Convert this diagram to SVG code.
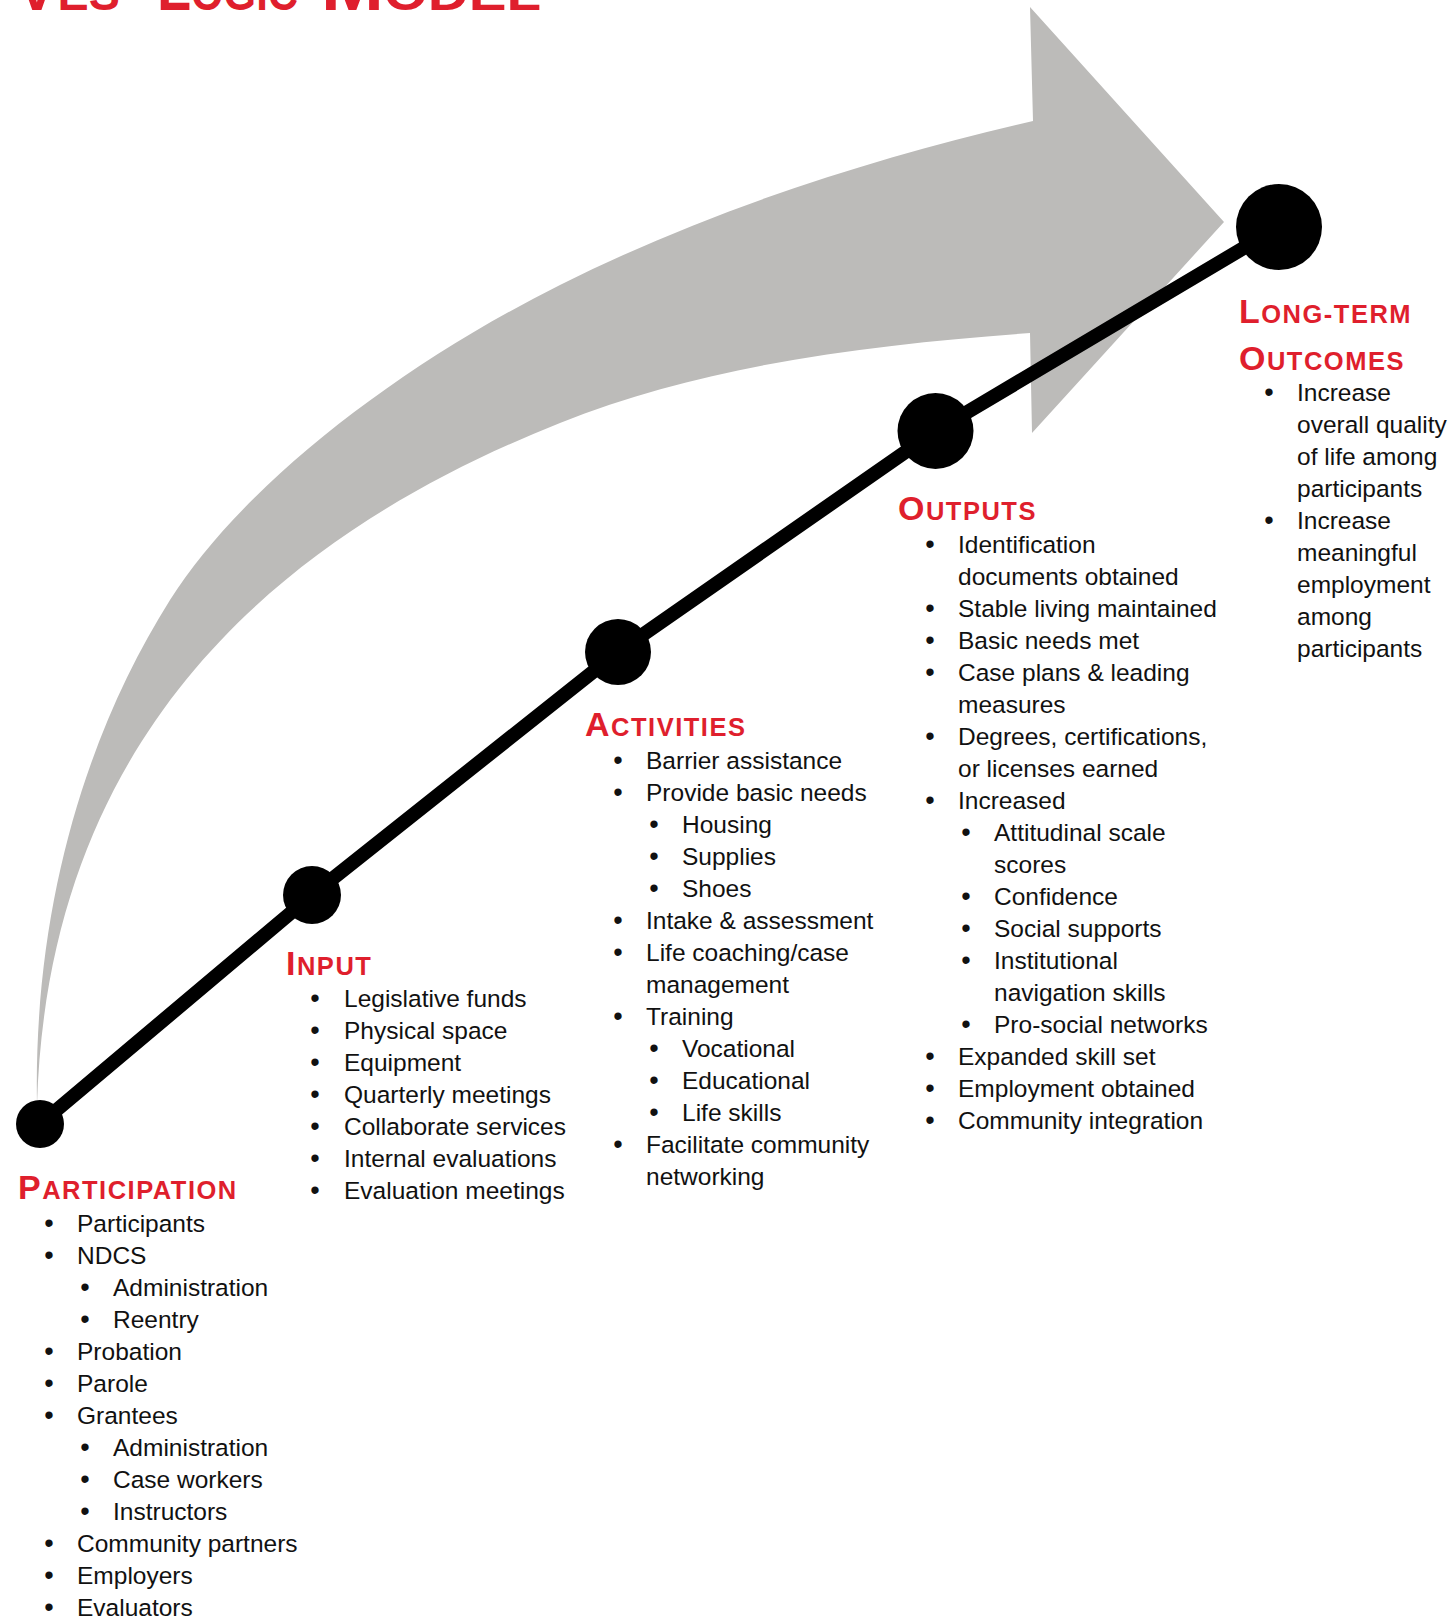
<svg xmlns="http://www.w3.org/2000/svg" width="1454" height="1620" viewBox="0 0 1454 1620">
<style>
.h{font-family:"Liberation Sans",Arial,sans-serif;font-weight:bold;fill:#DF1F2D;font-size:25.5px;letter-spacing:1.5px}
.h .c{font-size:34px}
.ti{font-family:"Liberation Sans",Arial,sans-serif;font-weight:bold;fill:#DF1F2D;font-size:48px}
.ti .c{font-size:64px}
.t{font-family:"Liberation Sans",Arial,sans-serif;font-size:24.5px;fill:#111}
.b{font-family:"Liberation Sans",Arial,sans-serif;font-size:27px;fill:#111;text-anchor:middle}
.dot{fill:#000}
</style>
<rect width="1454" height="1620" fill="#fff"/>
<g id="title">
<text class="ti" x="16" y="10" textLength="104" lengthAdjust="spacingAndGlyphs"><tspan class="c">V</tspan>ES</text>
<text class="ti" x="157" y="10" textLength="141" lengthAdjust="spacingAndGlyphs"><tspan class="c">L</tspan>OGIC</text>
<text class="ti" x="321" y="10" textLength="220" lengthAdjust="spacingAndGlyphs"><tspan class="c">M</tspan>ODEL</text>
</g>
<g id="arrow">
<path fill="#BCBBB9" d="M37,1105 C33,900 90,727 170,600 C239.5,490 390,370 560,285 C720,205 883,156 1033,121 L1030,7 L1224,222 L1032,433 L1030,333 C880,344 710,363 560,423 C290,530 48,725 37,1105 Z"/>
</g>
<g id="connectors">
<polyline points="40,1124 312,895 618,652 935.5,431 1279,227" fill="none" stroke="#000" stroke-width="14" stroke-linejoin="round" stroke-linecap="round"/>
</g>
<g id="node-participation">
<circle class="dot" cx="40" cy="1124" r="24"/>
<text class="h" x="18" y="1199"><tspan class="c">P</tspan>ARTICIPATION</text>
<text class="b" x="49" y="1232">•</text><text class="t" x="77" y="1232">Participants</text>
<text class="b" x="49" y="1264">•</text><text class="t" x="77" y="1264">NDCS</text>
<text class="b" x="85" y="1296">•</text><text class="t" x="113" y="1296">Administration</text>
<text class="b" x="85" y="1328">•</text><text class="t" x="113" y="1328">Reentry</text>
<text class="b" x="49" y="1360">•</text><text class="t" x="77" y="1360">Probation</text>
<text class="b" x="49" y="1392">•</text><text class="t" x="77" y="1392">Parole</text>
<text class="b" x="49" y="1424">•</text><text class="t" x="77" y="1424">Grantees</text>
<text class="b" x="85" y="1456">•</text><text class="t" x="113" y="1456">Administration</text>
<text class="b" x="85" y="1488">•</text><text class="t" x="113" y="1488">Case workers</text>
<text class="b" x="85" y="1520">•</text><text class="t" x="113" y="1520">Instructors</text>
<text class="b" x="49" y="1552">•</text><text class="t" x="77" y="1552">Community partners</text>
<text class="b" x="49" y="1584">•</text><text class="t" x="77" y="1584">Employers</text>
<text class="b" x="49" y="1616">•</text><text class="t" x="77" y="1616">Evaluators</text>
</g>
<g id="node-input">
<circle class="dot" cx="312" cy="895" r="29"/>
<text class="h" x="286" y="975"><tspan class="c">I</tspan>NPUT</text>
<text class="b" x="315" y="1007">•</text><text class="t" x="344" y="1007">Legislative funds</text>
<text class="b" x="315" y="1039">•</text><text class="t" x="344" y="1039">Physical space</text>
<text class="b" x="315" y="1071">•</text><text class="t" x="344" y="1071">Equipment</text>
<text class="b" x="315" y="1103">•</text><text class="t" x="344" y="1103">Quarterly meetings</text>
<text class="b" x="315" y="1135">•</text><text class="t" x="344" y="1135">Collaborate services</text>
<text class="b" x="315" y="1167">•</text><text class="t" x="344" y="1167">Internal evaluations</text>
<text class="b" x="315" y="1199">•</text><text class="t" x="344" y="1199">Evaluation meetings</text>
</g>
<g id="node-activities">
<circle class="dot" cx="618" cy="652" r="33"/>
<text class="h" x="585" y="736"><tspan class="c">A</tspan>CTIVITIES</text>
<text class="b" x="618" y="769">•</text><text class="t" x="646" y="769">Barrier assistance</text>
<text class="b" x="618" y="801">•</text><text class="t" x="646" y="801">Provide basic needs</text>
<text class="b" x="654" y="833">•</text><text class="t" x="682" y="833">Housing</text>
<text class="b" x="654" y="865">•</text><text class="t" x="682" y="865">Supplies</text>
<text class="b" x="654" y="897">•</text><text class="t" x="682" y="897">Shoes</text>
<text class="b" x="618" y="929">•</text><text class="t" x="646" y="929">Intake &amp; assessment</text>
<text class="b" x="618" y="961">•</text><text class="t" x="646" y="961">Life coaching/case</text>
<text class="t" x="646" y="993">management</text>
<text class="b" x="618" y="1025">•</text><text class="t" x="646" y="1025">Training</text>
<text class="b" x="654" y="1057">•</text><text class="t" x="682" y="1057">Vocational</text>
<text class="b" x="654" y="1089">•</text><text class="t" x="682" y="1089">Educational</text>
<text class="b" x="654" y="1121">•</text><text class="t" x="682" y="1121">Life skills</text>
<text class="b" x="618" y="1153">•</text><text class="t" x="646" y="1153">Facilitate community</text>
<text class="t" x="646" y="1185">networking</text>
</g>
<g id="node-outputs">
<circle class="dot" cx="935.5" cy="431" r="38"/>
<text class="h" x="898" y="520"><tspan class="c">O</tspan>UTPUTS</text>
<text class="b" x="930" y="553">•</text><text class="t" x="958" y="553">Identification</text>
<text class="t" x="958" y="585">documents obtained</text>
<text class="b" x="930" y="617">•</text><text class="t" x="958" y="617">Stable living maintained</text>
<text class="b" x="930" y="649">•</text><text class="t" x="958" y="649">Basic needs met</text>
<text class="b" x="930" y="681">•</text><text class="t" x="958" y="681">Case plans &amp; leading</text>
<text class="t" x="958" y="713">measures</text>
<text class="b" x="930" y="745">•</text><text class="t" x="958" y="745">Degrees, certifications,</text>
<text class="t" x="958" y="777">or licenses earned</text>
<text class="b" x="930" y="809">•</text><text class="t" x="958" y="809">Increased</text>
<text class="b" x="966" y="841">•</text><text class="t" x="994" y="841">Attitudinal scale</text>
<text class="t" x="994" y="873">scores</text>
<text class="b" x="966" y="905">•</text><text class="t" x="994" y="905">Confidence</text>
<text class="b" x="966" y="937">•</text><text class="t" x="994" y="937">Social supports</text>
<text class="b" x="966" y="969">•</text><text class="t" x="994" y="969">Institutional</text>
<text class="t" x="994" y="1001">navigation skills</text>
<text class="b" x="966" y="1033">•</text><text class="t" x="994" y="1033">Pro-social networks</text>
<text class="b" x="930" y="1065">•</text><text class="t" x="958" y="1065">Expanded skill set</text>
<text class="b" x="930" y="1097">•</text><text class="t" x="958" y="1097">Employment obtained</text>
<text class="b" x="930" y="1129">•</text><text class="t" x="958" y="1129">Community integration</text>
</g>
<g id="node-long-term-outcomes">
<circle class="dot" cx="1279" cy="227" r="43"/>
<text class="h" x="1239" y="323"><tspan class="c">L</tspan>ONG-TERM</text>
<text class="h" x="1239" y="370"><tspan class="c">O</tspan>UTCOMES</text>
<text class="b" x="1269" y="401">•</text><text class="t" x="1297" y="401">Increase</text>
<text class="t" x="1297" y="433">overall quality</text>
<text class="t" x="1297" y="465">of life among</text>
<text class="t" x="1297" y="497">participants</text>
<text class="b" x="1269" y="529">•</text><text class="t" x="1297" y="529">Increase</text>
<text class="t" x="1297" y="561">meaningful</text>
<text class="t" x="1297" y="593">employment</text>
<text class="t" x="1297" y="625">among</text>
<text class="t" x="1297" y="657">participants</text>
</g>
</svg>
